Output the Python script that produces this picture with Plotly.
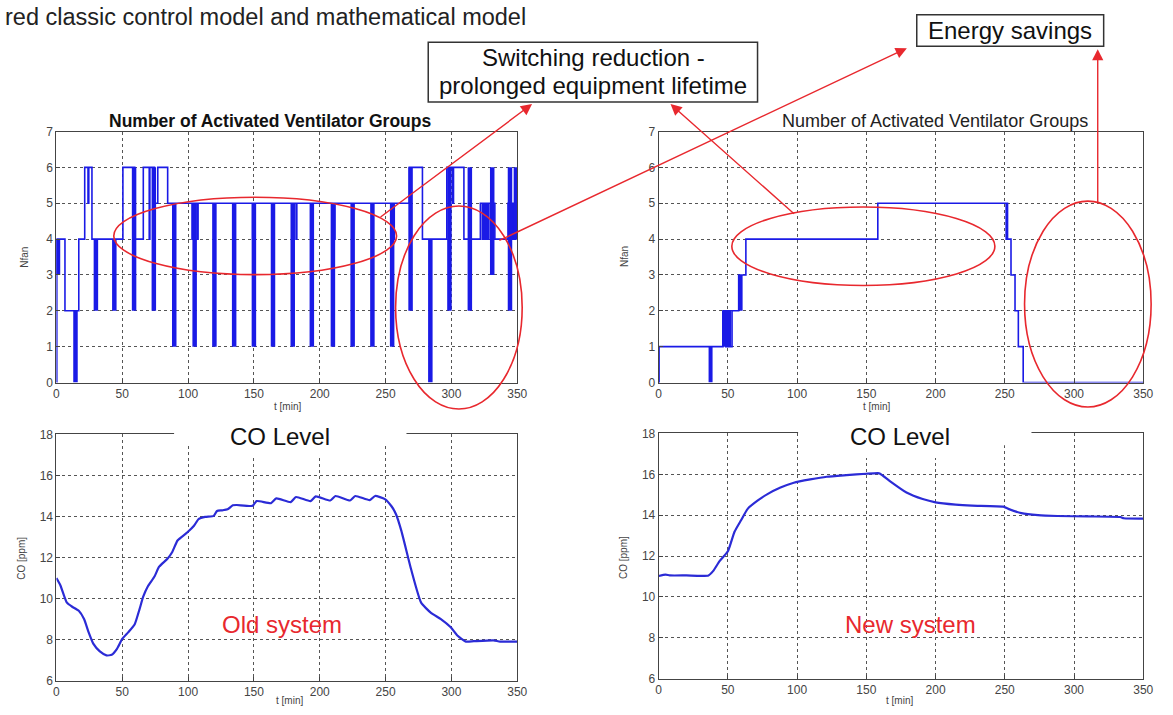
import plotly.graph_objects as go

W, H = 1173, 715

# ---------------- data ----------------
x_ticks = [0, 50, 100, 150, 200, 250, 300, 350]
n_ticks = [0, 1, 2, 3, 4, 5, 6, 7]
co_ticks = [6, 8, 10, 12, 14, 16, 18]

# old system: number of active ventilator groups (switch instants / level after switch)
old_switch_t = [0, 0.3, 6.5, 17, 21.5, 24, 24.6, 27, 50.5, 59.5, 66, 70.5, 71, 74.5, 77, 84.5,
                103, 103.6, 107, 107.6, 149, 149.6, 182, 182.6, 211, 211.6, 256, 256.6,
                268, 278, 296.5, 301, 301.6, 309.5, 322, 323.5, 324.5, 325.5, 326.5, 327.5,
                328.5, 333, 343, 346, 347, 348, 349, 350]
old_switch_n = [0, 4, 2, 4, 6, 5, 6, 4, 6, 4, 6, 4, 6, 5, 6, 5,
                4, 5, 4, 5, 4, 5, 4, 5, 4, 5, 4, 5,
                6, 4, 6, 5, 6, 4, 5, 4, 5, 4, 5, 4,
                5, 4, 5, 4, 5, 4, 5, 5]
# old system: fast on/off bursts (time, lowest level, highest level)
old_burst_t = [1.2, 14.5, 30, 44, 59, 74, 89.5, 105, 120, 135, 150, 164.5, 179.5, 194, 210,
               225, 240, 255, 269, 284, 298.5, 314, 331, 344.5, 349]
old_burst_lo = [3, 0, 2, 2, 2, 2, 1, 1, 1, 1, 1, 1, 1, 1, 1,
                1, 1, 1, 2, 0, 2, 2, 3, 2, 4]
old_burst_hi = [4, 2, 4, 4, 6, 6, 5, 5, 5, 5, 5, 5, 5, 5, 5,
                5, 5, 5, 6, 4, 6, 6, 6, 6, 6]

# new system: number of active ventilator groups
new_switch_t = [0, 0.3, 46.5, 48.5, 49.3, 50.1, 50.9, 51.7, 53, 57.8, 63, 158.3,
                251, 251.5, 252, 254.5, 257.4, 259.8, 263.3, 350]
new_switch_n = [0, 1, 2, 1, 2, 1, 2, 1, 2, 3, 4, 5,
                4, 5, 4, 3, 2, 1, 0, 0]
new_burst_t = [37.5, 47.2, 59.2]
new_burst_lo = [0, 1, 2]
new_burst_hi = [1, 2, 3]

# CO concentration [ppm]
old_co_t = [0, 3, 6, 8, 12, 17, 21, 24.5, 28, 33, 38, 42, 46, 50, 54.5, 59.5, 63, 66, 69.5, 74.5,
            78, 84.5, 88, 92, 99.5, 104.5, 108, 113, 119.5, 122, 126, 130, 134, 137, 149, 152,
            163, 167, 178, 182, 193, 197, 208, 212, 223, 227, 238, 242, 249.5, 254.5, 258, 262,
            269.5, 277, 284.5, 292, 299.5, 304.5, 311, 317, 332, 337, 350]
old_co = [11.0, 10.65, 10.1, 9.8, 9.6, 9.4, 9.0, 8.35, 7.8, 7.42, 7.23, 7.26, 7.55, 8.03, 8.35,
          8.75, 9.45, 10.1, 10.6, 11.07, 11.55, 11.95, 12.27, 12.83, 13.23, 13.55, 13.87, 13.98,
          14.03, 14.27, 14.3, 14.35, 14.55, 14.56, 14.52, 14.75, 14.65, 14.88, 14.7, 14.95, 14.75,
          14.98, 14.78, 15.0, 14.78, 15.0, 14.8, 15.0, 14.85, 14.5, 14.1, 13.3, 11.4, 9.8, 9.3,
          9.0, 8.6, 8.2, 7.9, 7.92, 7.96, 7.9, 7.9]
new_co_t = [0, 5, 8, 20, 36, 39.3, 44, 50, 54.8, 59.5, 64.3, 71.4, 78.6, 88, 97.6, 109.5, 121.4,
            135.7, 150, 158.3, 160, 167, 179, 190.7, 200, 214.5, 226.4, 249, 252.6, 262, 274,
            288, 310, 333.5, 336, 350]
new_co = [11.02, 11.09, 11.05, 11.05, 11.05, 11.26, 11.75, 12.23, 13.19, 13.75, 14.31, 14.71,
          15.03, 15.35, 15.59, 15.75, 15.88, 15.96, 16.03, 16.06, 16.03, 15.67, 15.11, 14.79,
          14.63, 14.52, 14.47, 14.42, 14.31, 14.1, 14.0, 13.96, 13.94, 13.91, 13.85, 13.83]

# ---------------- helpers ----------------
FONT = "Liberation Sans, Arial, sans-serif"
BLUE = "#1a1ae6"
RED = "#e8282e"


def px(x):
    return x / W


def py(y):
    return 1 - y / H


def segments(ts, lo, hi):
    xs, ys = [], []
    for t, a, b in zip(ts, lo, hi):
        xs += [t, t, None]
        ys += [a, b, None]
    return xs, ys


fig = go.Figure()

# Nfan step traces
fig.add_trace(go.Scatter(x=old_switch_t, y=old_switch_n, mode="lines", line_shape="hv",
                         line=dict(color=BLUE, width=1.6), xaxis="x", yaxis="y"))
bx, by = segments(old_burst_t, old_burst_lo, old_burst_hi)
fig.add_trace(go.Scatter(x=bx, y=by, mode="lines", line=dict(color=BLUE, width=4.5),
                         xaxis="x", yaxis="y"))
fig.add_trace(go.Scatter(x=new_switch_t, y=new_switch_n, mode="lines", line_shape="hv",
                         line=dict(color=BLUE, width=1.6), xaxis="x2", yaxis="y2"))
bx, by = segments(new_burst_t, new_burst_lo, new_burst_hi)
fig.add_trace(go.Scatter(x=bx, y=by, mode="lines", line=dict(color=BLUE, width=4),
                         xaxis="x2", yaxis="y2"))

# CO traces
fig.add_trace(go.Scatter(x=old_co_t, y=old_co, mode="lines", line_shape="spline",
                         line=dict(color="#2b2bd6", width=2.2, smoothing=0.5),
                         xaxis="x3", yaxis="y3"))
fig.add_trace(go.Scatter(x=new_co_t, y=new_co, mode="lines", line_shape="spline",
                         line=dict(color="#2b2bd6", width=2.2, smoothing=0.5),
                         xaxis="x4", yaxis="y4"))


def xax(domain, anchor):
    return dict(domain=domain, anchor=anchor, range=[0, 350], tickvals=x_ticks,
                showline=True, mirror=True, linecolor="#444", linewidth=1,
                ticks="inside", ticklen=4, tickcolor="#444",
                showgrid=True, gridcolor="#555", griddash="3px,3px", gridwidth=1,
                zeroline=False, tickfont=dict(family=FONT, size=12, color="#444"))


def yax(domain, anchor, rng, vals):
    return dict(domain=domain, anchor=anchor, range=rng, tickvals=vals,
                showline=True, mirror=True, linecolor="#444", linewidth=1,
                ticks="inside", ticklen=4, tickcolor="#444",
                showgrid=True, gridcolor="#555", griddash="3px,3px", gridwidth=1,
                zeroline=False, tickfont=dict(family=FONT, size=12, color="#444"))


xl = [px(54), px(520)]
xr = [px(663), px(1153)]
fig.update_layout(
    width=W, height=H, margin=dict(l=0, r=0, t=0, b=0),
    paper_bgcolor="white", plot_bgcolor="white", showlegend=False,
    xaxis=xax(xl, "y"), yaxis=yax([py(383), py(127)], "x", [0, 7], n_ticks),
    xaxis2=xax(xr, "y2"), yaxis2=yax([py(383), py(127)], "x2", [0, 7], n_ticks),
    xaxis3=xax(xl, "y3"), yaxis3=yax([py(687), py(436)], "x3", [6, 18], co_ticks),
    xaxis4=xax(xr, "y4"), yaxis4=yax([py(685), py(435)], "x4", [6, 18], co_ticks),
)

shapes = []
# white title backdrops on the CO panels
for (x0, x1, x2, x3) in [(173, 408, 200, 378), (804, 1040, 815, 1008)]:
    shapes.append(dict(type="rect", xref="paper", yref="paper", x0=px(x0), x1=px(x1),
                       y0=py(447), y1=py(418), fillcolor="white", line_width=0, layer="above"))
    shapes.append(dict(type="rect", xref="paper", yref="paper", x0=px(x2), x1=px(x3),
                       y0=py(460), y1=py(446), fillcolor="white", line_width=0, layer="above"))

# highlight ellipses
for (x0, y0, x1, y1) in [(112, 194, 398, 273), (397, 203, 525, 410),
                         (737, 204, 1003, 284), (1033, 198, 1161, 408)]:
    shapes.append(dict(type="circle", xref="paper", yref="paper", x0=px(x0), x1=px(x1),
                       y0=py(y1), y1=py(y0), line=dict(color=RED, width=1.6), layer="above"))

# callout boxes
for (x0, y0, x1, y1) in [(430, 36, 763, 97), (924, 8, 1113, 40)]:
    shapes.append(dict(type="rect", xref="paper", yref="paper", x0=px(x0), x1=px(x1),
                       y0=py(y1), y1=py(y0), line=dict(color="#333", width=1.5),
                       fillcolor="white", layer="above"))
fig.update_layout(shapes=shapes)

ann = []


def text(x, y, s, size, color="#111", bold=False, angle=0):
    ann.append(dict(x=px(x), y=py(y), xref="paper", yref="paper", text=f"<b>{s}</b>" if bold else s,
                    showarrow=False, font=dict(family=FONT, size=size, color=color),
                    textangle=angle, xanchor="center", yanchor="middle"))


ann.append(dict(x=0, y=py(10), xref="paper", yref="paper",
                text="red classic control model and mathematical model", showarrow=False,
                font=dict(family=FONT, size=23.5, color="#222"), xanchor="left", yanchor="middle"))
text(597, 51, "Switching reduction -", 24)
text(597, 80, "prolonged equipment lifetime", 24)
text(1018, 24, "Energy savings", 24)

text(270, 116, "Number of Activated Ventilator Groups", 17.5, bold=True)
text(942, 116, "Number of Activated Ventilator Groups", 18, color="#222")
text(280, 438, "CO Level", 24)
text(907, 438, "CO Level", 24)
text(282, 630, "Old system", 24, color=RED)
text(918, 630, "New system", 24, color=RED)

text(21, 255, "Nfan", 10, color="#444", angle=-90)
text(628, 255, "Nfan", 10, color="#444", angle=-90)
text(19, 562, "CO [ppm]", 10, color="#444", angle=-90)
text(628, 562, "CO [ppm]", 10, color="#444", angle=-90)
text(288, 407, "t [min]", 10, color="#444")
text(883, 407, "t [min]", 10, color="#444")
text(290, 707, "t [min]", 10, color="#444")
text(907, 707, "t [min]", 10, color="#444")

# arrows: (tip x, tip y, tail x, tail y)
for (tx, ty, sx, sy) in [(535, 99, 382, 213), (914, 42, 505, 235),
                         (675, 99, 800, 210), (1107, 43, 1107, 198)]:
    ann.append(dict(x=px(tx), y=py(ty), xref="paper", yref="paper", text="",
                    showarrow=True, ax=sx - tx, ay=sy - ty, axref="pixel", ayref="pixel",
                    arrowhead=2, arrowsize=1.6, arrowwidth=1.4, arrowcolor=RED, standoff=0))
fig.update_layout(annotations=ann)

fig.write_html("out.html")
